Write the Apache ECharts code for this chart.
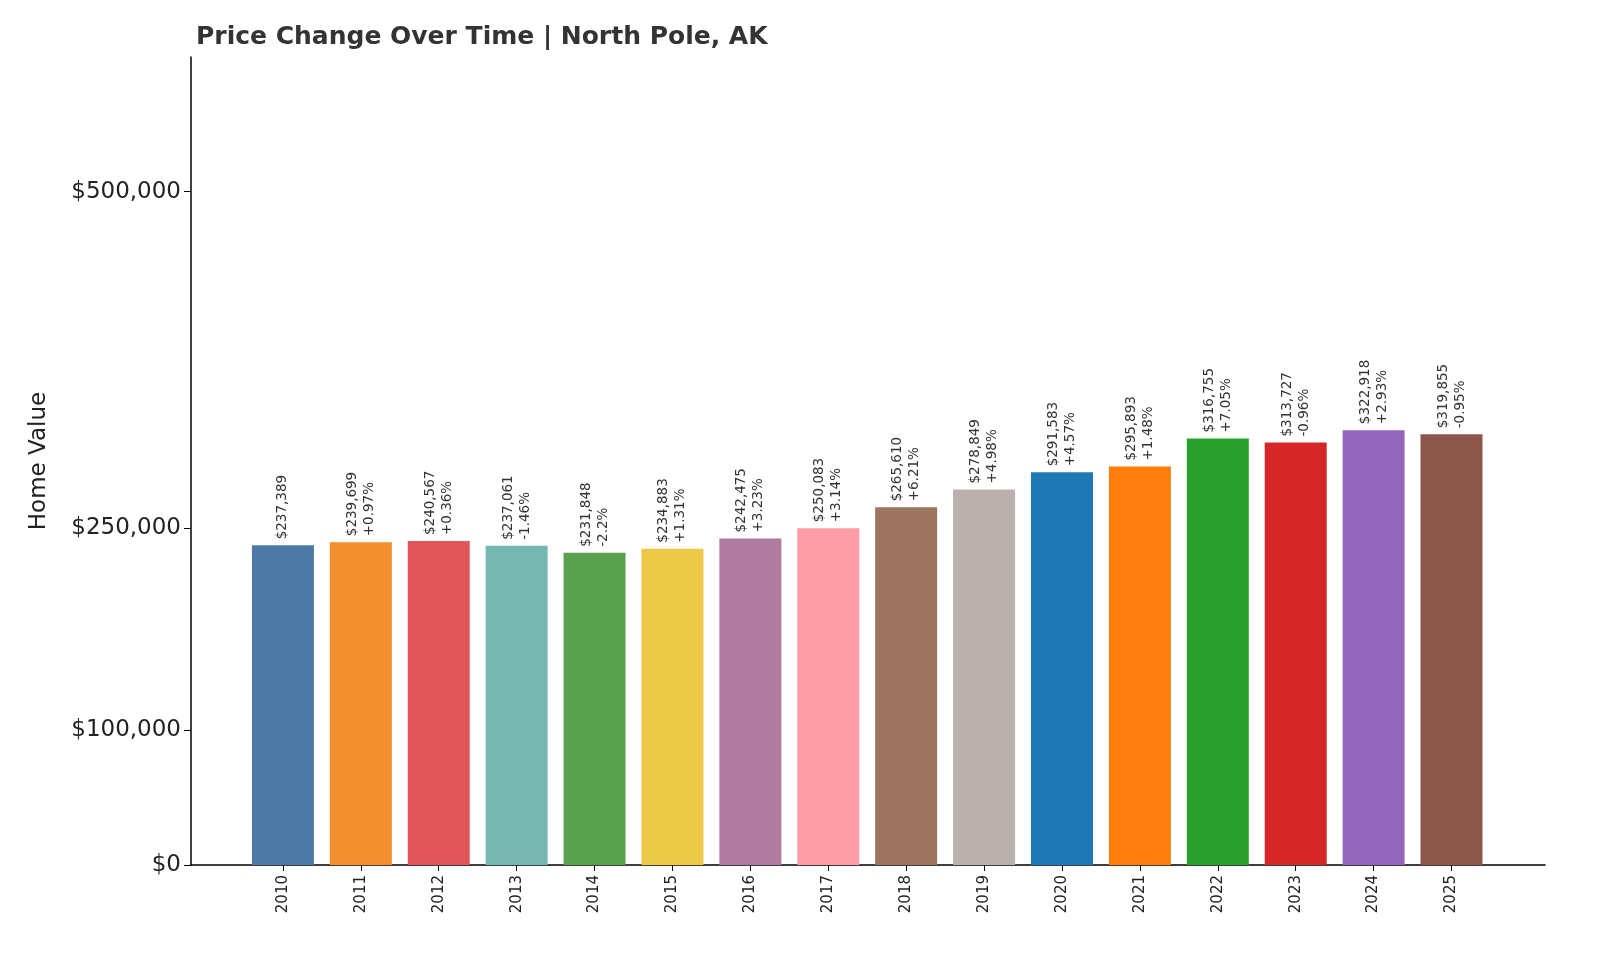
<!DOCTYPE html>
<html><head><meta charset="utf-8">
<script src="https://cdn.jsdelivr.net/npm/echarts@6/dist/echarts.min.js"></script>
<style>html,body{margin:0;padding:0;background:#fff}#c{width:1600px;height:960px}</style>
</head><body><div id="c"></div>
<script>
const years = ['2010','2011','2012','2013','2014','2015','2016','2017','2018','2019','2020','2021','2022','2023','2024','2025'];
const values = [237389,239699,240567,237061,231848,234883,242475,250083,265610,278849,291583,295893,316755,313727,322918,319855];
const changes = [null,'+0.97%','+0.36%','-1.46%','-2.2%','+1.31%','+3.23%','+3.14%','+6.21%','+4.98%','+4.57%','+1.48%','+7.05%','-0.96%','+2.93%','-0.95%'];
const colors = ['#4e79a7','#f28e2b','#e15759','#76b7b2','#59a14f','#edc948','#b07aa1','#ff9da7','#9c755f','#bab0ac','#1f77b4','#ff7f0e','#2ca02c','#d62728','#9467bd','#8c564b'];
const yTicks = [0,100000,250000,500000];
const fmt = v => '$' + v.toLocaleString('en-US');
const chart = echarts.init(document.getElementById('c'));
chart.setOption({
  animation:false,
  title:{text:'Price Change Over Time | North Pole, AK',left:191,top:20,textStyle:{fontFamily:'DejaVu Sans',fontSize:25,fontWeight:'bold',color:'#333'}},
  grid:{left:191,right:55,top:57,bottom:95},
  xAxis:{type:'value',min:-1.18,max:16.2,
    axisLine:{show:true,onZero:false,lineStyle:{color:'#000',width:1.5}},
    axisTick:{show:true,customValues:years.map((y,i)=>i),length:6,lineStyle:{color:'#000'}},
    axisLabel:{customValues:years.map((y,i)=>i),formatter:v=>years[Math.round(v)],rotate:90,fontFamily:'DejaVu Sans',fontSize:15,color:'#222',margin:10},
    splitLine:{show:false}},
  yAxis:{type:'value',min:0,max:600000,name:'Home Value',nameLocation:'middle',nameGap:140,
    nameTextStyle:{fontFamily:'DejaVu Sans',fontSize:23,color:'#222'},
    axisLine:{show:true,onZero:false,lineStyle:{color:'#000',width:1.5}},
    axisTick:{show:true,customValues:yTicks,length:7,lineStyle:{color:'#000'}},
    axisLabel:{customValues:yTicks,formatter:v=>fmt(v),fontFamily:'DejaVu Sans',fontSize:23,color:'#222',margin:10},
    splitLine:{show:false}},
  series:[{type:'bar',barWidth:62,
    data:values.map((v,i)=>({value:[i,v],itemStyle:{color:colors[i]}})),
    label:{show:true,position:'top',rotate:90,align:'left',verticalAlign:'middle',distance:6,
      fontFamily:'DejaVu Sans',fontSize:13.5,color:'#333',lineHeight:17,
      formatter:p=>{const i=p.dataIndex;return changes[i]?fmt(values[i])+'\n'+changes[i]:fmt(values[i]);}}
  }]
});
</script></body></html>
